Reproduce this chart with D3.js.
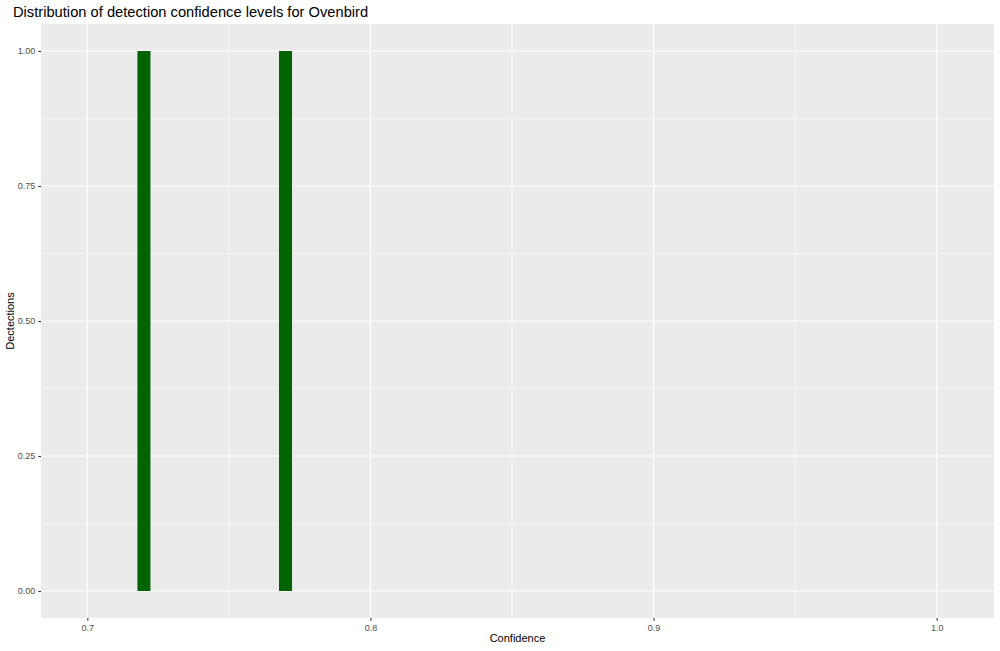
<!DOCTYPE html>
<html><head><meta charset="utf-8">
<script src="https://cdn.jsdelivr.net/npm/d3@7"></script>
<style>body{margin:0;background:#fff;} text{font-family:"Liberation Sans",Arial,Helvetica,sans-serif;}</style>
</head><body>
<svg id="c" width="1000" height="651"></svg>
<script>
const confidence = [0.72, 0.77];
const detections = [1, 1];
const xTicks = [0.7, 0.8, 0.9, 1.0];
const xMinor = [0.75, 0.85, 0.95];
const yTicks = [0, 0.25, 0.5, 0.75, 1.0];
const yMinor = [0.125, 0.375, 0.625, 0.875];
const binWidth = 0.0046;
const titleText = "Distribution of detection confidence levels for Ovenbird";
const xTitle = "Confidence";
const yTitle = "Dectections";

const svg = d3.select("#c");
const L = 41, R = 994, T = 24, B = 618;
const x = d3.scaleLinear().domain([0.68364, 1.02025]).range([L, R]);
const y = d3.scaleLinear().domain([-0.05, 1.05]).range([B, T]);

svg.append("rect").attr("x", L).attr("y", T).attr("width", R - L).attr("height", B - T).attr("fill", "#ebebeb");

const g = svg.append("g");
g.selectAll(".xmin").data(xMinor).join("line").attr("x1", d => x(d)).attr("x2", d => x(d)).attr("y1", T).attr("y2", B).attr("stroke", "#fff").attr("stroke-width", 0.55);
g.selectAll(".ymin").data(yMinor).join("line").attr("y1", d => y(d)).attr("y2", d => y(d)).attr("x1", L).attr("x2", R).attr("stroke", "#fff").attr("stroke-width", 0.55);
g.selectAll(".xmaj").data(xTicks).join("line").attr("x1", d => x(d)).attr("x2", d => x(d)).attr("y1", T).attr("y2", B).attr("stroke", "#fff").attr("stroke-width", 1.1);
g.selectAll(".ymaj").data(yTicks).join("line").attr("y1", d => y(d)).attr("y2", d => y(d)).attr("x1", L).attr("x2", R).attr("stroke", "#fff").attr("stroke-width", 1.1);

svg.selectAll(".bar").data(confidence).join("rect")
  .attr("x", d => x(d - binWidth / 2))
  .attr("width", d => x(d + binWidth / 2) - x(d - binWidth / 2))
  .attr("y", (d, i) => y(detections[i]))
  .attr("height", (d, i) => y(0) - y(detections[i]))
  .attr("fill", "#006400");

const xAxis = d3.axisBottom(x).tickValues(xTicks).tickFormat(d3.format(".1f")).tickSize(2.75).tickPadding(4);
const gx = svg.append("g").attr("transform", `translate(0,${B})`).call(xAxis);
const yAxis = d3.axisLeft(y).tickValues(yTicks).tickFormat(d3.format(".2f")).tickSize(2.75).tickPadding(3);
const gy = svg.append("g").attr("transform", `translate(${L},0)`).call(yAxis);
[gx, gy].forEach(a => {
  a.select(".domain").remove();
  a.selectAll(".tick line").attr("stroke", "#333").attr("stroke-width", 1.1);
  a.selectAll(".tick text").attr("fill", "#4d4d4d").style("font-size", "9px").style("font-family", '"Liberation Sans",Arial,sans-serif');
});

svg.append("text").attr("x", 13).attr("y", 17).attr("font-size", 14.7).attr("fill", "#000").text(titleText);
svg.append("text").attr("x", (L + R) / 2).attr("y", 642).attr("text-anchor", "middle").attr("font-size", 11).attr("fill", "#000").text(xTitle);
svg.append("text").attr("transform", `translate(14,${(T + B) / 2}) rotate(-90)`).attr("text-anchor", "middle").attr("font-size", 11).attr("fill", "#000").text(yTitle);
</script>
</body></html>
